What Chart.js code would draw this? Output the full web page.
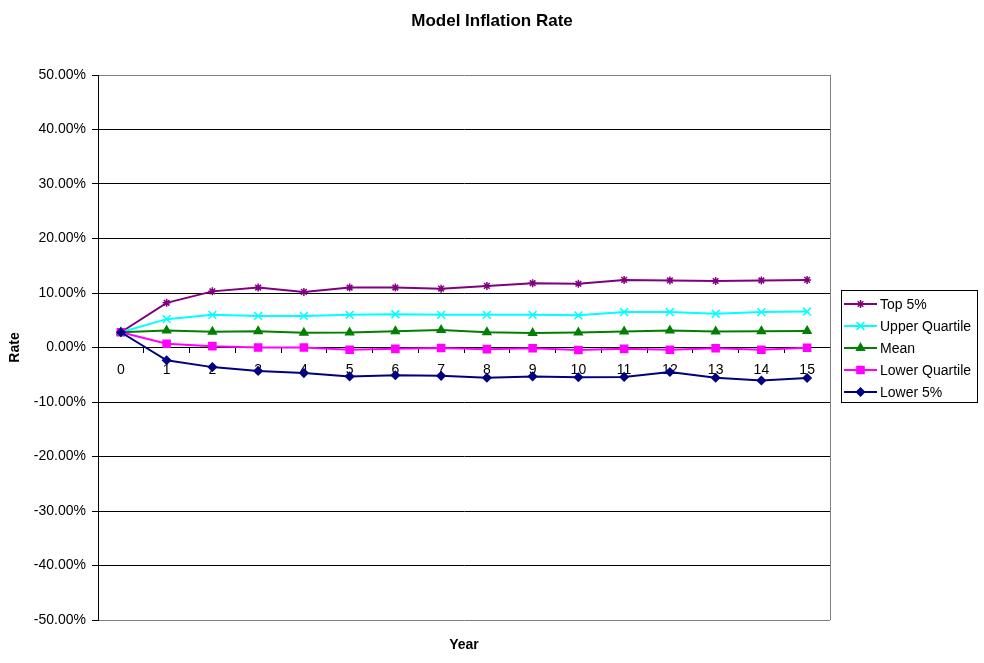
<!DOCTYPE html>
<html>
<head>
<meta charset="utf-8">
<script src="https://cdn.jsdelivr.net/npm/chart.js@4/dist/chart.umd.min.js"></script>
<style>
  html, body { margin: 0; padding: 0; background: #ffffff; }
  #wrap { width: 984px; height: 663px; }
</style>
</head>
<body>
<div id="wrap"><canvas id="chart" width="984" height="663"></canvas></div>
<script>
// Simulated inflation rate percentiles by projection year (in %)
const years = ['0','1','2','3','4','5','6','7','8','9','10','11','12','13','14','15'];
const top5 = [2.8, 8.2, 10.3, 11.0, 10.2, 11.0, 11.0, 10.8, 11.3, 11.8, 11.7, 12.4, 12.3, 12.2, 12.3, 12.4];
const upperQuartile = [2.8, 5.2, 6.0, 5.8, 5.8, 6.0, 6.1, 6.0, 6.0, 6.0, 5.9, 6.5, 6.5, 6.2, 6.5, 6.6];
const mean = [2.8, 3.1, 2.9, 3.0, 2.7, 2.75, 3.0, 3.2, 2.8, 2.65, 2.75, 2.95, 3.1, 2.95, 3.0, 3.05];
const lowerQuartile = [2.8, 0.7, 0.25, 0.0, 0.0, -0.4, -0.25, -0.1, -0.3, -0.15, -0.45, -0.25, -0.4, -0.15, -0.4, -0.05];
const lower5 = [2.8, -2.35, -3.6, -4.3, -4.7, -5.3, -5.1, -5.2, -5.55, -5.3, -5.45, -5.4, -4.5, -5.55, -6.05, -5.6];
const rateTicks = [-50, -40, -30, -20, -10, 0, 10, 20, 30, 40, 50];

const FONT = "'Liberation Sans', Arial, sans-serif";

function series(label, data, color, style, radius, order) {
  return {
    label, data, order,
    borderColor: color, backgroundColor: color,
    pointBackgroundColor: color, pointBorderColor: color,
    pointStyle: style, pointRadius: radius, pointHoverRadius: radius,
    pointBorderWidth: 1.5, borderWidth: 2, tension: 0, fill: false
  };
}

// Boxed legend at the right of the plot
const boxLegend = {
  id: 'boxLegend',
  afterDraw(chart) {
    const ctx = chart.ctx;
    const area = chart.chartArea;
    ctx.save();
    // grey frame on the right side of the plot area
    ctx.strokeStyle = '#808080';
    ctx.lineWidth = 1;
    ctx.beginPath();
    ctx.moveTo(Math.round(area.right) + 0.5, area.top);
    ctx.lineTo(Math.round(area.right) + 0.5, area.bottom);
    ctx.stroke();

    const x0 = 841.5, y0 = 290.5, w = 136, h = 112;
    ctx.fillStyle = '#ffffff';
    ctx.fillRect(x0, y0, w, h);
    ctx.strokeStyle = '#000000';
    ctx.strokeRect(x0, y0, w, h);
    ctx.font = '14px ' + FONT;
    ctx.textBaseline = 'middle';
    ctx.textAlign = 'left';
    chart.data.datasets.forEach((ds, i) => {
      const y = 304 + i * 22;
      ctx.strokeStyle = ds.borderColor;
      ctx.lineWidth = 2;
      ctx.beginPath();
      ctx.moveTo(844, y);
      ctx.lineTo(877, y);
      ctx.stroke();
      ctx.fillStyle = ds.backgroundColor;
      ctx.lineWidth = 1.5;
      Chart.helpers.drawPoint(ctx, {
        pointStyle: ds.pointStyle, radius: ds.pointRadius, rotation: 0, borderWidth: 1.5
      }, 860.5, y);
      ctx.fillStyle = '#000000';
      ctx.fillText(ds.label, 880, y + 1);
    });
    ctx.restore();
  }
};

new Chart(document.getElementById('chart'), {
  type: 'line',
  data: {
    labels: years,
    datasets: [
      series('Top 5%', top5, '#800080', 'star', 4, 5),
      series('Upper Quartile', upperQuartile, '#00FFFF', 'crossRot', 5.5, 4),
      series('Mean', mean, '#008000', 'triangle', 4.5, 3),
      series('Lower Quartile', lowerQuartile, '#FF00FF', 'rect', 5, 2),
      series('Lower 5%', lower5, '#000080', 'rectRot', 4, 1)
    ]
  },
  options: {
    responsive: false,
    animation: false,
    devicePixelRatio: 1,
    layout: { padding: 0 },
    plugins: {
      legend: { display: false },
      tooltip: { enabled: false },
      title: {
        display: true,
        text: 'Model Inflation Rate',
        color: '#000000',
        font: { family: FONT, size: 17, weight: 'bold' },
        padding: { top: 11, bottom: 43.6 }
      }
    },
    scales: {
      x: {
        type: 'category',
        position: { y: 0 },
        offset: true,
        grid: {
          offset: true, drawOnChartArea: false, drawTicks: true,
          tickLength: 5, color: '#000000', tickColor: '#000000'
        },
        border: { display: true, color: '#000000', width: 1 },
        ticks: {
          color: '#000000', padding: 9, maxRotation: 0, autoSkip: false,
          font: { family: FONT, size: 14 }
        }
      },
      x2: {
        type: 'category',
        labels: years,
        position: 'bottom',
        offset: true,
        grid: { display: false },
        border: { display: false },
        ticks: { display: false },
        title: {
          display: true, text: 'Year', color: '#000000',
          font: { family: FONT, size: 14, weight: 'bold' },
          padding: { top: 0, bottom: 9 }
        },
        afterFit(scale) { scale.height = 43; }
      },
      y: {
        type: 'linear',
        position: 'left',
        min: -50, max: 50,
        afterBuildTicks(scale) { scale.ticks = rateTicks.map(v => ({ value: v })); },
        grid: {
          color: ctx => (ctx.tick && Math.abs(ctx.tick.value) === 50) ? '#808080' : '#000000',
          tickColor: '#000000',
          lineWidth: 1, tickLength: 6, drawTicks: true
        },
        border: { display: true, color: '#000000', width: 1 },
        ticks: {
          color: '#000000', padding: 6,
          font: { family: FONT, size: 14 },
          callback: v => v.toFixed(2) + '%'
        },
        title: {
          display: true, text: 'Rate', color: '#000000',
          font: { family: FONT, size: 14, weight: 'bold' },
          padding: { top: 7, bottom: 0 }
        },
        afterFit(scale) { scale.width = 98; }
      },
      // empty right-hand axis that reserves room for the legend box
      yLegend: {
        type: 'linear',
        position: 'right',
        min: -50, max: 50,
        grid: { display: false },
        border: { display: false },
        ticks: { display: false },
        afterFit(scale) { scale.width = 154; }
      }
    }
  },
  plugins: [boxLegend]
});
</script>
</body>
</html>
